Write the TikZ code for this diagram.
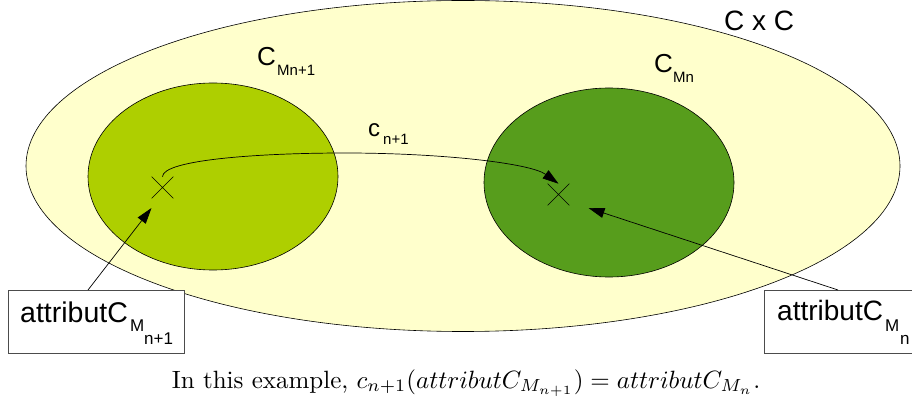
\documentclass[tikz,border=0pt]{standalone}
\usepackage{graphicx}
\usepackage{fontspec}
\newfontfamily\arial{Liberation Sans}
\usetikzlibrary{shapes.geometric,shapes.misc,arrows.meta,calc}
\definecolor{ccfill}{HTML}{FFFFCC}
\definecolor{lgreen}{HTML}{AECF00}
\definecolor{dgreen}{HTML}{579D1C}
\tikzset{
  lbl/.style={inner sep=0pt, anchor=base west},
  xmark/.style={cross out, draw, minimum size=21pt, inner sep=0pt, line width=0.6pt},
  conn/.style={line width=0.7pt, -{Triangle[length=16pt,width=10pt]}},
  attrbox/.style={draw=black!70, fill=white, line width=0.8pt, inner sep=0pt,
    minimum width=176pt, minimum height=63pt, anchor=north west},
  setellipse/.style={ellipse, draw, line width=0.6pt, inner sep=0pt},
}
\newcommand{\fs}[1]{\arial\fontsize{#1}{#1}\selectfont}
\begin{document}
\begin{tikzpicture}[x=1pt,y=-1pt]
\useasboundingbox (0,0) rectangle (912,403);
\clip (0,0) rectangle (912,403);
% sets
\node[setellipse, fill=ccfill, minimum width=874pt, minimum height=331pt] (cc) at (463,166) {};
\node[setellipse, fill=lgreen, minimum width=250pt, minimum height=187pt] (cm1) at (213,176.5) {};
\node[setellipse, fill=dgreen, minimum width=250pt, minimum height=189pt] (cm) at (609,182.5) {};
% elements
\node[xmark] (lx) at (162.5,187.5) {};
\node[xmark] (rx) at (558.5,194.5) {};
% boxes
\node[attrbox, minimum width=176pt] (lbox) at (8,290) {};
\node[attrbox, minimum width=180pt] (rbox) at (764,290) {};
% connectors
\draw[conn] (lx.north) .. controls ($(lx.north)+(0,-17)$) and (260,153) .. (345,153)
  .. controls (440,153) and (530,163) .. (rx.north);
\draw[conn] ($(lbox.north west)+(80,0)$) -- ($(lx.center)+(-11,20.5)$);
\draw[conn] ($(rbox.north west)+(74,0)$) -- ($(rx.center)+(30,13.5)$);
% labels
\node[lbl, font=\fs{28}] (lcc) at (724,31) {C x C};
\node[lbl, font=\fs{26}] (lc1) at (257,66) {C};
\node[lbl, font=\fs{15}] (lc1s) at (277,76) {Mn+1};
\node[lbl, font=\fs{26}] (lc2) at (654,73) {C};
\node[lbl, font=\fs{15}] (lc2s) at (673,83) {Mn};
\node[lbl, font=\fs{24}] (lf) at (368,137) {c};
\node[lbl, font=\fs{15}] (lfs) at (383,145) {n+1};
\node[lbl, font=\fs{28.5}] (la) at (20,322) {attributC};
\node[lbl, font=\fs{17}] (lam) at (130,331) {M};
\node[lbl, font=\fs{17}] (lan) at (144,344) {n+1};
\node[lbl, font=\fs{28}] (ra) at (777,320) {attributC};
\node[lbl, font=\fs{17}] (ram) at (885,331) {M};
\node[lbl, font=\fs{17}] (ran) at (900,344) {n};
% caption
\node[anchor=base, inner sep=0pt] (cap) at (466,388)
  {\scalebox{2.5}{In this example, $c_{n+1}(attributC_{M_{n+1}}) = attributC_{M_n}$.}};
\end{tikzpicture}
\end{document}
